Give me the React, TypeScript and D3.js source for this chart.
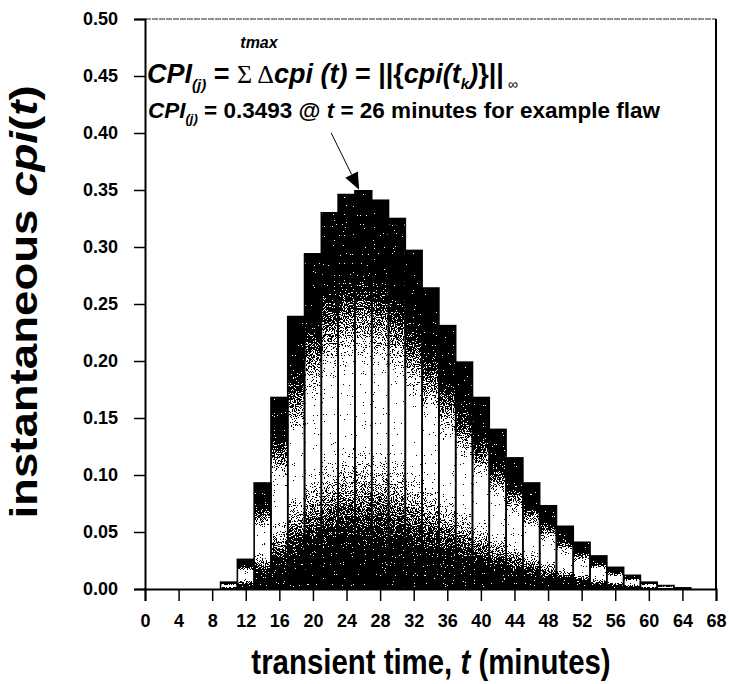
import React, { useEffect, useRef } from "react";
import * as d3 from "d3";

// ---- data ----
const times = [10, 12, 14, 16, 18, 20, 22, 24, 26, 28, 30, 32, 34, 36, 38, 40, 42, 44, 46, 48, 50, 52, 54, 56, 58, 60, 62, 64];
const cpiValues = [0.006, 0.026, 0.093, 0.168, 0.239, 0.294, 0.330, 0.346, 0.3493, 0.341, 0.325, 0.297, 0.264, 0.231, 0.199, 0.168, 0.140, 0.115, 0.093, 0.073, 0.055, 0.041, 0.029, 0.019, 0.012, 0.006, 0.003, 0.001];
const yTicks = [0, 0.05, 0.1, 0.15, 0.2, 0.25, 0.3, 0.35, 0.4, 0.45, 0.5];
const xTicks = [0, 4, 8, 12, 16, 20, 24, 28, 32, 36, 40, 44, 48, 52, 56, 60, 64, 68];
const peakTime = 26;
const peakValue = 0.3493;

const FONT = "'Liberation Sans', Arial, Helvetica, sans-serif";
const SERIF = "'Liberation Serif', 'DejaVu Serif', serif";

export default function App() {
  const W = 729, H = 684;
  const left = 145, right = 716, top = 19, bottom = 589;
  const x = d3.scaleLinear().domain([0, 68]).range([left, right]);
  const y = d3.scaleLinear().domain([0, 0.5]).range([bottom, top]);
  const barW = 2;

  const xAxisRef = useRef<SVGGElement>(null);
  const yAxisRef = useRef<SVGGElement>(null);

  useEffect(() => {
    const xa = d3.axisBottom(x).tickValues(xTicks).tickSize(12).tickPadding(13).tickFormat(d3.format("d"));
    const ya = d3.axisLeft(y).tickValues(yTicks).tickSize(11).tickPadding(16).tickFormat(d3.format(".2f"));
    const gx = d3.select(xAxisRef.current!);
    gx.call(xa as any);
    gx.select(".domain").attr("stroke", "#000").attr("stroke-width", 2);
    gx.selectAll(".tick line").attr("stroke", "#000").attr("stroke-width", 1.5);
    gx.selectAll(".tick text").attr("font-family", FONT).attr("font-weight", "bold").attr("font-size", 18).attr("fill", "#000");
    const gy = d3.select(yAxisRef.current!);
    gy.call(ya as any);
    gy.select(".domain").attr("stroke", "#000").attr("stroke-width", 2);
    gy.selectAll(".tick line").attr("stroke", "#000").attr("stroke-width", 1.5);
    gy.selectAll(".tick text").attr("font-family", FONT).attr("font-weight", "bold").attr("font-size", 18).attr("fill", "#000");
  }, []);

  const tipX = x(peakTime - 0.5);
  const tipY = y(peakValue) - 1;
  const startX = tipX - 28, startY = tipY - 57;
  const ang = Math.atan2(tipY - startY, tipX - startX);
  const ahL = 17, ahW = 7;
  const bx = tipX - ahL * Math.cos(ang), by = tipY - ahL * Math.sin(ang);
  const head = `${tipX},${tipY} ${bx + ahW * Math.sin(ang)},${by - ahW * Math.cos(ang)} ${bx - ahW * Math.sin(ang)},${by + ahW * Math.cos(ang)}`;

  return (
    <svg width={W} height={H} style={{ position: "absolute", left: 0, top: 0, background: "#fff" }}>
      <defs>
        <linearGradient id="barGrad" x1="0" y1="0" x2="0" y2="1">
          <stop offset="0" stopColor="#000" />
          <stop offset="0.2" stopColor="#050505" />
          <stop offset="0.45" stopColor="#fff" />
          <stop offset="0.63" stopColor="#fff" />
          <stop offset="0.88" stopColor="#151515" />
          <stop offset="1" stopColor="#000" />
        </linearGradient>
        <filter id="dither" x="0" y="0" width="1" height="1" colorInterpolationFilters="sRGB">
          <feTurbulence type="fractalNoise" baseFrequency="0.9" numOctaves={1} seed={5} result="noise" />
          <feColorMatrix in="noise" type="matrix" values="1 0 0 0 0  1 0 0 0 0  1 0 0 0 0  0 0 0 0 1" result="gn" />
          <feComposite in="SourceGraphic" in2="gn" operator="arithmetic" k1={0} k2={1} k3={2.2} k4={-1.1} result="mix" />
          <feComponentTransfer in="mix" result="th">
            <feFuncR type="discrete" tableValues="0 1" />
            <feFuncG type="discrete" tableValues="0 1" />
            <feFuncB type="discrete" tableValues="0 1" />
          </feComponentTransfer>
          <feComposite in="th" in2="SourceGraphic" operator="in" />
        </filter>
      </defs>

      {/* frame */}
      <line x1={left} x2={right} y1={top} y2={top} stroke="#222" strokeWidth={1} strokeDasharray="6 1" />
      <line x1={right} x2={right} y1={top} y2={bottom} stroke="#000" strokeWidth={2} />

      {/* bar fills */}
      <g filter="url(#dither)">
        {times.map((t, i) => (
          <rect key={t} x={x(t - barW / 2)} y={y(cpiValues[i])} width={x(t + barW / 2) - x(t - barW / 2)} height={y(0) - y(cpiValues[i])} fill="url(#barGrad)" />
        ))}
      </g>
      {/* bar outlines */}
      <g>
        {times.map((t, i) => (
          <rect key={t} x={x(t - barW / 2)} y={y(cpiValues[i])} width={x(t + barW / 2) - x(t - barW / 2)} height={y(0) - y(cpiValues[i])} fill="none" stroke="#000" strokeWidth={1.6} />
        ))}
      </g>

      <g ref={xAxisRef} transform={`translate(0,${bottom})`} />
      <g ref={yAxisRef} transform={`translate(${left},0)`} />

      {/* axis titles */}
      <text transform="translate(431,674) scale(0.84,1)" x={0} y={0} textAnchor="middle" fontFamily={FONT} fontWeight="bold" fontSize={35}>
        transient time, <tspan fontStyle="italic">t</tspan> (minutes)
      </text>
      <text transform="translate(37,302) rotate(-90) scale(1.2,1)" x={0} y={0} textAnchor="middle" fontFamily={FONT} fontWeight="bold" fontSize={38}>
        instantaneous <tspan fontStyle="italic">cpi</tspan>(<tspan fontStyle="italic">t</tspan>)
      </text>

      {/* annotation */}
      <text x={259} y={48} textAnchor="middle" fontFamily={FONT} fontWeight="bold" fontStyle="italic" fontSize={16}>tmax</text>
      <text x={147} y={83} fontFamily={FONT} fontWeight="bold" fontSize={27}>
        <tspan fontStyle="italic">CPI</tspan>
        <tspan fontStyle="italic" fontSize={15} dy={7}>(j)</tspan>
        <tspan dy={-7}> = </tspan>
        <tspan fontFamily={SERIF} fontWeight="normal" fontSize={26}>Σ Δ</tspan>
        <tspan fontStyle="italic">cpi (t)</tspan>
        <tspan> = ||{"{"}</tspan>
        <tspan fontStyle="italic">cpi(t</tspan>
        <tspan fontStyle="italic" fontSize={15} dy={6}>k</tspan>
        <tspan dy={-6} fontStyle="italic">)</tspan>
        <tspan>{"}"}||</tspan>
        <tspan fontSize={14} fontWeight="normal" dy={6}> ∞</tspan>
      </text>
      <text x={148} y={118} fontFamily={FONT} fontWeight="bold" fontSize={22.5}>
        <tspan fontStyle="italic">CPI</tspan>
        <tspan fontStyle="italic" fontSize={13} dy={5}>(j)</tspan>
        <tspan dy={-5}> = 0.3493 @ </tspan>
        <tspan fontStyle="italic">t</tspan>
        <tspan> = 26 minutes for example flaw</tspan>
      </text>
      <line x1={startX} y1={startY} x2={bx} y2={by} stroke="#000" strokeWidth={1} />
      <polygon points={head} fill="#000" />
    </svg>
  );
}
